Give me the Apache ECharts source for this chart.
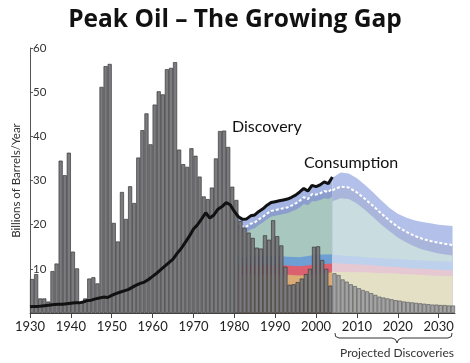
<!DOCTYPE html>
<html><head><meta charset="utf-8">
<script src="https://cdn.jsdelivr.net/npm/echarts@6/dist/echarts.min.js"></script>
<style>html,body{margin:0;padding:0;background:#fff}#c{width:470px;height:363px}</style>
</head><body><div id="c"></div>
<script>
// ---- data ----
const histYears = [1930,1931,1932,1933,1934,1935,1936,1937,1938,1939,1940,1941,1942,1943,1944,1945,1946,1947,1948,1949,1950,1951,1952,1953,1954,1955,1956,1957,1958,1959,1960,1961,1962,1963,1964,1965,1966,1967,1968,1969,1970,1971,1972,1973,1974,1975,1976,1977,1978,1979,1980,1981,1982,1983,1984,1985,1986,1987,1988,1989,1990,1991,1992,1993,1994,1995,1996,1997,1998,1999,2000,2001,2002,2003];
const histDiscovery = [7.7,8.8,3.3,3.3,2.6,9.5,11.2,34.5,31.2,36.3,13.9,10.1,2.4,3.3,7.8,8.1,6.7,51.2,55.9,56.4,20.4,16.2,27.4,21.3,28.7,24.9,35.2,41.4,45.2,38.2,47.2,50.2,49.5,55.2,55.5,56.8,37.0,33.7,33.1,37.3,35.6,30.9,26.4,25.8,28.4,35.0,41.2,41.3,37.6,28.6,25.6,20.8,19.3,18.2,17.0,14.8,14.6,17.6,16.6,21.0,17.4,15.3,10.5,6.4,6.5,7.0,7.8,8.8,10.0,15.0,15.1,12.0,10.0,6.2];
const projYears = [2004,2005,2006,2007,2008,2009,2010,2011,2012,2013,2014,2015,2016,2017,2018,2019,2020,2021,2022,2023,2024,2025,2026,2027,2028,2029,2030,2031,2032,2033];
const projDiscovery = [9.0,8.6,7.6,7.1,6.5,6.1,5.6,5.2,4.9,4.5,4.1,3.7,3.5,3.3,3.1,2.9,2.8,2.6,2.5,2.4,2.3,2.2,2.1,2.0,1.9,1.9,1.8,1.8,1.7,1.7];
const consYears = [1930,1931,1932,1933,1934,1935,1936,1937,1938,1939,1940,1941,1942,1943,1944,1945,1946,1947,1948,1949,1950,1951,1952,1953,1954,1955,1956,1957,1958,1959,1960,1961,1962,1963,1964,1965,1966,1967,1968,1969,1970,1971,1972,1973,1974,1975,1976,1977,1978,1979,1980,1981,1982,1983,1984,1985,1986,1987,1988,1989,1990,1991,1992,1993,1994,1995,1996,1997,1998,1999,2000,2001,2002,2003,2004];
const consumption = [1.4,1.5,1.5,1.6,1.7,1.8,1.9,2.0,2.0,2.1,2.2,2.3,2.3,2.5,2.8,2.9,3.2,3.4,3.6,3.5,4.0,4.4,4.7,5.0,5.3,5.8,6.3,6.7,7.0,7.6,8.3,9.0,9.8,10.6,11.4,12.2,13.5,14.6,16.0,17.4,19.0,20.0,21.3,22.7,21.5,22.2,23.5,24.1,25.0,24.5,23.0,21.8,21.2,21.3,22.0,22.2,23.0,23.6,24.4,25.0,25.2,25.4,25.6,25.8,26.2,26.7,27.4,28.2,27.6,28.9,28.6,29.0,29.7,29.3,30.8];

// gap bands, historical part (upper boundary of each band)
const gapYears = [1980,1981,1982,1983,1984,1985,1986,1987,1988,1989,1990,1991,1992,1993,1994,1995,1996,1997,1998,1999,2000,2001,2002,2003,2004];
const gapTop = [23.0,21.8,21.2,21.3,22.0,22.2,23.0,23.6,24.4,25.0,25.2,25.4,25.6,25.8,26.2,26.7,27.4,28.2,27.6,28.9,28.6,29.0,29.7,29.3,30.8];
const gapDashed = [21.5,20.2,19.6,19.6,20.2,20.5,21.2,21.8,22.5,23.1,23.3,23.5,23.7,23.9,24.3,24.8,25.4,26.2,25.8,26.9,26.8,27.1,27.6,27.4,28.2];
const gapTeal = [20.2,18.9,18.3,18.3,18.9,19.2,19.9,20.5,21.2,21.8,22.0,22.2,22.4,22.6,23.0,23.4,23.9,24.7,24.4,25.3,25.3,25.6,26.0,25.8,26.4];
const gapYears2 = [1981,1984,1988,1992,1996,2000,2004];
const gapBlue = [12.6,12.8,13.0,12.8,12.6,13.2,13.3];
const gapRed = [10.6,10.8,10.9,10.8,10.6,11.0,11.2];
const gapTan = [8.6,8.7,8.8,8.7,8.5,8.8,9.2];

// gap bands, projected part
const pYears = [2004,2006,2008,2010,2012,2014,2016,2018,2020,2022,2024,2026,2028,2030,2033.4];
const pTop = [30.6,31.8,31.6,30.5,29.0,27.3,25.5,23.8,22.5,21.6,21.0,20.6,20.3,20.0,19.7];
const pDashed = [27.8,28.6,28.4,27.3,25.8,24.2,22.5,20.9,19.5,18.4,17.5,16.8,16.3,15.9,15.4];
const pTeal = [25.3,26.0,25.8,24.8,23.3,21.7,20.0,18.5,17.1,16.0,15.1,14.4,13.9,13.5,13.0];
const pBlue = [13.2,13.0,12.9,12.8,12.6,12.5,12.4,12.3,12.2,12.1,12.0,11.9,11.8,11.7,11.6];
const pRed = [11.4,11.2,11.1,11.0,10.9,10.8,10.6,10.5,10.4,10.2,10.1,10.0,9.9,9.8,9.6];
const pTan = [9.4,9.3,9.3,9.2,9.2,9.1,9.0,9.0,8.9,8.8,8.7,8.6,8.5,8.4,8.3];

const xTicks = [1930,1940,1950,1960,1970,1980,1990,2000,2010,2020,2030];
const yTicks = [10,20,30,40,50,60];

// ---- chart ----
const zip = (xs, ys) => xs.map((x, i) => [x, ys[i]]);
function band(xs, ys, color) {
  return { type: 'line', z: 1, data: zip(xs, ys), symbol: 'none', lineStyle: { width: 0 },
    areaStyle: { color: color, opacity: 1 }, silent: true };
}
const FONT = 'Lato, "Noto Sans", sans-serif';
const chart = echarts.init(document.getElementById('c'), null, { renderer: 'canvas' });
const barData = histYears.map((y, i) => [y + 0.5, histDiscovery[i]]).concat(
  projYears.map((y, i) => ({ value: [y + 0.5, projDiscovery[i]], itemStyle: { color: '#a4a4a7', borderColor: '#606060' } })));

chart.setOption({
  animation: false,
  grid: { left: 30, right: 15, top: 48, bottom: 50 },
  xAxis: { type: 'value', min: 1930, max: 2034, interval: 10,
    axisLine: { lineStyle: { color: '#444', width: 1 } },
    axisTick: { length: 5, lineStyle: { color: '#444' }, customValues: xTicks },
    axisLabel: { customValues: xTicks, formatter: v => String(v), color: '#222', fontSize: 13, fontFamily: FONT, margin: 7 },
    splitLine: { show: false } },
  yAxis: { type: 'value', min: 0, max: 60, interval: 10,
    name: 'Billions of Barrels/Year', nameLocation: 'middle', nameRotate: 90, nameGap: 3,
    nameTextStyle: { fontSize: 11.5, color: '#333', fontFamily: FONT },
    axisLine: { show: true, lineStyle: { color: '#555', width: 1 } },
    axisTick: { show: true, inside: true, length: 3, lineStyle: { color: '#555' }, customValues: yTicks },
    axisLabel: { inside: true, margin: 3, color: '#333', fontSize: 11.5, fontFamily: FONT, customValues: yTicks },
    splitLine: { show: false } },
  series: [
    band(gapYears, gapTop, '#a3b4e2'),
    band(gapYears, gapDashed, '#8b9ecd'),
    band(gapYears, gapTeal, '#a8c8bf'),
    band(gapYears2, gapBlue, '#6e9fd4'),
    band(gapYears2, gapRed, '#dc6170'),
    band(gapYears2, gapTan, '#d9ab75'),
    band(pYears, pTop, '#b3c1ea'),
    band(pYears, pDashed, '#a9b5da'),
    band(pYears, pTeal, '#c9dcdf'),
    band(pYears, pBlue, '#bdd1ec'),
    band(pYears, pRed, '#e6c8d2'),
    band(pYears, pTan, '#e3e0c6'),
    { type: 'line', z: 2, data: zip(gapYears, gapDashed), symbol: 'none', silent: true,
      lineStyle: { color: '#fff', width: 2, type: [3, 2] } },
    { type: 'line', z: 2, data: zip(pYears, pDashed), symbol: 'none', silent: true,
      lineStyle: { color: '#fff', width: 2, type: [3, 2] } },
    { type: 'bar', z: 5, data: barData, barWidth: 4.1,
      itemStyle: { color: '#7a7a7f', borderColor: '#3a3a3a', borderWidth: 0.7 } },
    { type: 'line', z: 6, data: zip(consYears, consumption), symbol: 'none', silent: true,
      lineStyle: { color: '#111', width: 3 } }
  ],
  graphic: [
    { type: 'text', left: 'center', top: 8, style: { text: 'Peak Oil – The Growing Gap', font: 'bold 24.5px "Open Sans", Lato, sans-serif', fill: '#111' } },
    { type: 'text', x: 232, y: 127, style: { text: 'Discovery', font: '16px ' + FONT, fill: '#111', textVerticalAlign: 'middle' } },
    { type: 'text', x: 304, y: 163, style: { text: 'Consumption', font: '16px ' + FONT, fill: '#111', textVerticalAlign: 'middle' } },
    { type: 'polyline', shape: { points: [[335,333],[335.6,336.5],[339,338],[392,338],[395.5,339.5],[397,343],[398.5,339.5],[402,338],[448,338],[451.4,336.5],[452,333]] },
      style: { stroke: '#333', fill: null, lineWidth: 1 } },
    { type: 'text', x: 397, y: 353, style: { text: 'Projected Discoveries', font: '12px ' + FONT, fill: '#333', textAlign: 'center', textVerticalAlign: 'middle' } }
  ]
});
</script></body></html>
